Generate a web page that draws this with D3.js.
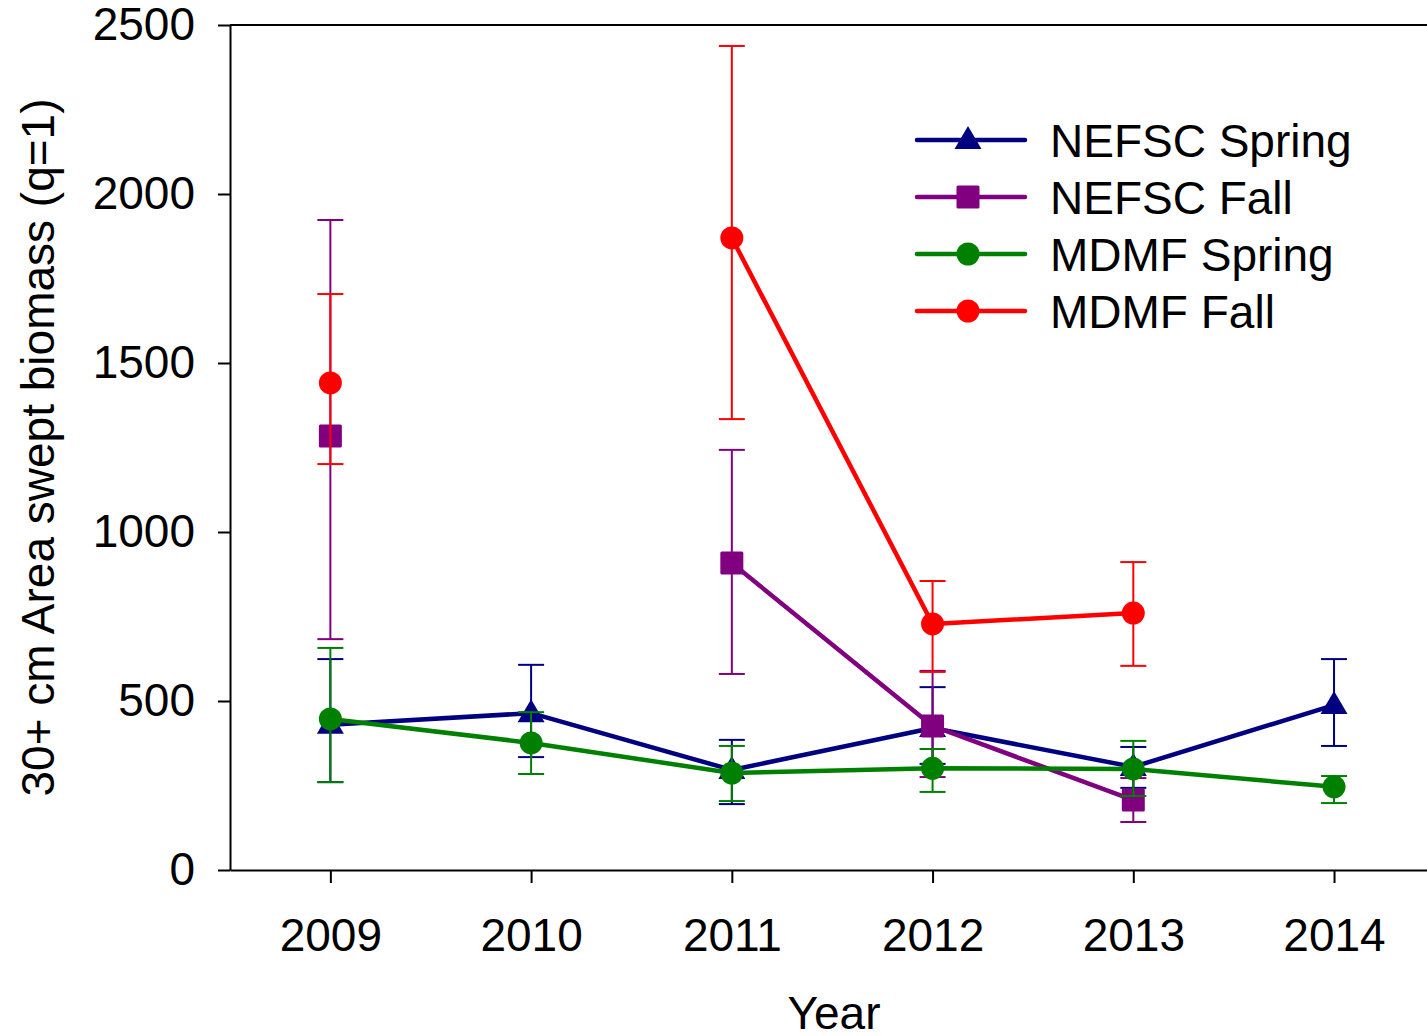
<!DOCTYPE html>
<html>
<head>
<meta charset="utf-8">
<script src="https://cdn.jsdelivr.net/npm/d3@7"></script>
<style>
html, body { margin: 0; padding: 0; background: #fff; }
svg { display: block; font-family: "Liberation Sans", Arial, sans-serif; }
</style>
</head>
<body>
<svg id="chart" width="1427" height="1036"></svg>
<script>
// ---- data ----
const years = [2009, 2010, 2011, 2012, 2013, 2014];
const yTicks = [0, 500, 1000, 1500, 2000, 2500];

const nefscSpring   = [430, 464, 296, 420, 305, 488];
const nefscSpringLo = [260, 334, 195, 314, 243, 367];
const nefscSpringHi = [624, 607, 385, 541, 364, 624];

const nefscFall   = [1284, null, 908, 426, 207, null];
const nefscFallLo = [683,  null, 580, 275, 142, null];
const nefscFallHi = [1923, null, 1243, 589, 272, null];

const mdmfSpring   = [447, 376, 287, 301, 299, 246];
const mdmfSpringLo = [260, 284, 204, 231, 219, 198];
const mdmfSpringHi = [657, 467, 367, 358, 382, 278];

const mdmfFall   = [1441, null, 1870, 728, 760, null];
const mdmfFallLo = [1201, null, 1334, 586, 604, null];
const mdmfFallHi = [1704, null, 2438, 855, 911, null];

const seriesNames = ["NEFSC Spring", "NEFSC Fall", "MDMF Spring", "MDMF Fall"];
const seriesColors = ["#000080", "#800080", "#008000", "#ff0000"];
const seriesSymbols = ["triangle", "square", "circle", "circle"];

const series = [
  { name: seriesNames[0], v: nefscSpring, lo: nefscSpringLo, hi: nefscSpringHi },
  { name: seriesNames[1], v: nefscFall,   lo: nefscFallLo,   hi: nefscFallHi },
  { name: seriesNames[2], v: mdmfSpring,  lo: mdmfSpringLo,  hi: mdmfSpringHi },
  { name: seriesNames[3], v: mdmfFall,    lo: mdmfFallLo,    hi: mdmfFallHi }
].map((s, i) => ({ ...s, color: seriesColors[i], symbol: seriesSymbols[i] }));

// ---- layout ----
const svg = d3.select("#chart");
const margin = { left: 230, top: 25 };
const plotW = 1204.4, plotH = 845;
const g = svg.append("g").attr("transform", `translate(${margin.left},${margin.top})`);

const x = d3.scaleLinear().domain([2008.5, 2014.5]).range([0, plotW]);
const y = d3.scaleLinear().domain([0, 2500]).range([plotH, 0]);

const FONT = 46;

// frame top / right
g.append("line").attr("x1", 0).attr("x2", plotW).attr("y1", 0).attr("y2", 0)
  .attr("stroke", "#000").attr("stroke-width", 2);
g.append("line").attr("x1", plotW).attr("x2", plotW).attr("y1", 0).attr("y2", plotH)
  .attr("stroke", "#000").attr("stroke-width", 2);

// axes
const yAxis = g.append("g")
  .call(d3.axisLeft(y).tickValues(yTicks).tickFormat(d3.format("d")).tickSize(12).tickPadding(23).tickSizeOuter(0));
const xAxis = g.append("g").attr("transform", `translate(0,${plotH})`)
  .call(d3.axisBottom(x).tickValues(years).tickFormat(d3.format("d")).tickSize(13).tickPadding(35).tickSizeOuter(0));
[yAxis, xAxis].forEach(a => {
  a.select(".domain").attr("stroke", "#000").attr("stroke-width", 2);
  a.selectAll(".tick line").attr("stroke", "#000").attr("stroke-width", 2);
  a.selectAll(".tick text").attr("fill", "#000").attr("font-size", FONT)
    .attr("font-family", "'Liberation Sans', Arial, sans-serif");
});

// axis titles
svg.append("text").attr("x", 834).attr("y", 1029).attr("text-anchor", "middle")
  .attr("font-size", FONT).text("Year");
svg.append("text").attr("transform", `translate(54,${margin.top + plotH / 2}) rotate(-90)`)
  .attr("text-anchor", "middle").attr("font-size", FONT)
  .text("30+ cm Area swept biomass (q=1)");

// symbols
function drawSymbol(sel, type, color) {
  if (type === "triangle") {
    sel.append("path").attr("d", "M0,-14 L13.5,9 L-13.5,9 Z").attr("fill", color);
  } else if (type === "square") {
    sel.append("rect").attr("x", -11.5).attr("y", -11.5).attr("width", 23).attr("height", 23)
      .attr("rx", 1.5).attr("fill", color);
  } else {
    sel.append("circle").attr("r", 11.5).attr("fill", color);
  }
}

const capW = 13;
series.forEach(s => {
  const pts = years.map((yr, i) => ({ yr, v: s.v[i], lo: s.lo[i], hi: s.hi[i] }));
  const sg = g.append("g");
  // error bars
  pts.filter(p => p.v != null).forEach(p => {
    const cx = x(p.yr);
    sg.append("line").attr("x1", cx).attr("x2", cx).attr("y1", y(p.hi)).attr("y2", y(p.lo))
      .attr("stroke", s.color).attr("stroke-width", 2);
    [p.hi, p.lo].forEach(e => {
      sg.append("line").attr("x1", cx - capW).attr("x2", cx + capW).attr("y1", y(e)).attr("y2", y(e))
        .attr("stroke", s.color).attr("stroke-width", 2);
    });
  });
  // line
  const line = d3.line().defined(p => p.v != null).x(p => x(p.yr)).y(p => y(p.v));
  sg.append("path").datum(pts).attr("d", line).attr("fill", "none")
    .attr("stroke", s.color).attr("stroke-width", 4.5).attr("stroke-linejoin", "round");
  // markers
  pts.filter(p => p.v != null).forEach(p => {
    const m = sg.append("g").attr("transform", `translate(${x(p.yr)},${y(p.v)})`);
    drawSymbol(m, s.symbol, s.color);
  });
});

// legend
const legend = svg.append("g");
const legX1 = 917, legX2 = 1025, legMid = 968, legTextX = 1050;
const legRows = [140, 197, 254, 311];
series.forEach((s, i) => {
  const row = legend.append("g").attr("transform", `translate(0,${legRows[i]})`);
  row.append("line").attr("x1", legX1).attr("x2", legX2).attr("y1", 0).attr("y2", 0)
    .attr("stroke", s.color).attr("stroke-width", 4.5).attr("stroke-linecap", "round");
  const m = row.append("g").attr("transform", `translate(${legMid},0)`);
  drawSymbol(m, s.symbol, s.color);
  row.append("text").attr("x", legTextX).attr("y", 17).attr("font-size", FONT)
    .attr("fill", "#000").text(s.name);
});
</script>
</body>
</html>
